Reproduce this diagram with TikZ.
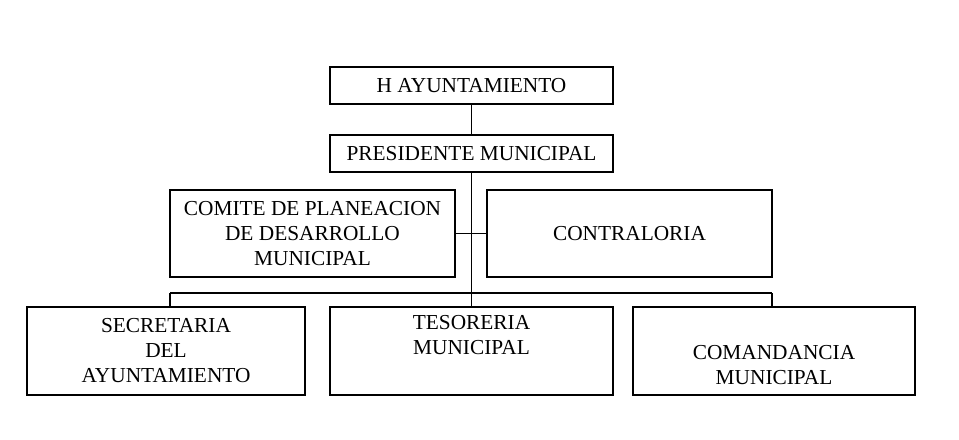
\documentclass[tikz,border=0pt]{standalone}
\usepackage{fontspec}
\setmainfont{Liberation Serif}
\usetikzlibrary{positioning}

\begin{document}
\begin{tikzpicture}[x=0.75pt, y=-0.75pt,
	every node/.style={
	            font=\fontsize{16}{18.75}\selectfont,
	            align=center,
	            inner sep=0pt,
	            },
	            unitbox/.style={
	            draw,
	            line width=1.3pt,
	            },
	            every path/.style={
                    line width=1.3pt
                }]
	\useasboundingbox (0,0) rectangle (959,439);

	\node[unitbox, minimum width=212.25pt, minimum height=27.75pt] (ayto) at (471.5,85.5) {H AYUNTAMIENTO};
	\node[unitbox, minimum width=212.25pt, minimum height=27.75pt] (pres) at (471.5,153.5) {PRESIDENTE MUNICIPAL};
	\node[unitbox, minimum width=213.75pt, minimum height=65.25pt] (comite) at (312.5,233.5) {COMITE DE PLANEACION\\DE DESARROLLO\\MUNICIPAL};
	\node[unitbox, minimum width=213.75pt, minimum height=65.25pt] (contra) at (629.5,233.5) {CONTRALORIA};
	\node[unitbox, minimum width=208.5pt, minimum height=66pt] (secre) at (166,351) {SECRETARIA\\DEL\\AYUNTAMIENTO};
	\node[unitbox, minimum width=212.25pt, minimum height=66pt] (teso) at (471.5,351) {TESORERIA\\MUNICIPAL\\\strut};
	\node[unitbox, minimum width=211.5pt, minimum height=66pt] (coman) at (774,351) {\strut\\COMANDANCIA\\MUNICIPAL};

	\coordinate (bus) at (471.5,293);
	\coordinate (busl) at (170,293);
	\coordinate (busr) at (772,293);

	\draw (ayto) -- (pres);
	\draw (pres) -- (bus);
	\draw (comite) -- (contra);
	\draw (busl) -- (busr);
	\draw (busl) -- (busl |- secre.north);
	\draw (bus) -- (teso);
	\draw (busr) -- (busr |- coman.north);
\end{tikzpicture}
\end{document}
